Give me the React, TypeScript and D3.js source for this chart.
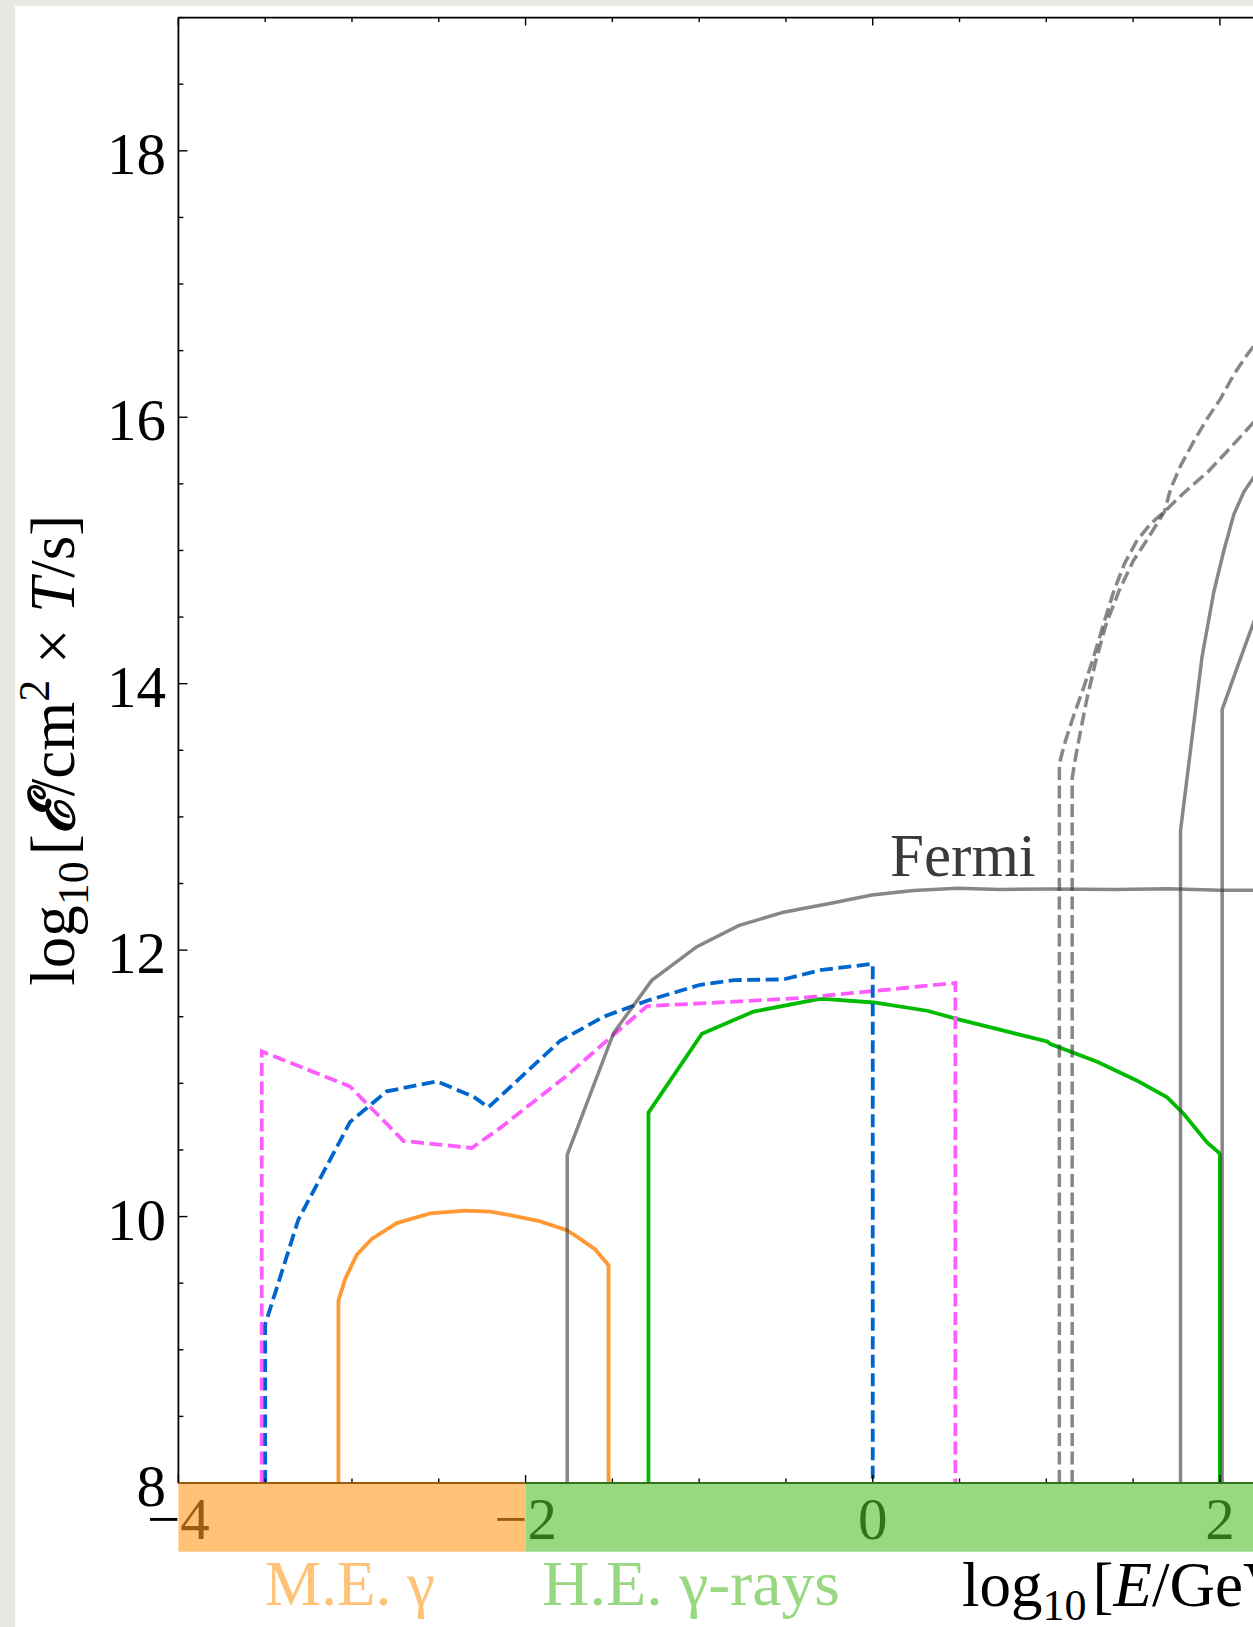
import React from 'react';
import * as d3 from 'd3';

// ---------- data ----------
const X_MAJOR = [-4, -2, 0, 2];
const Y_MAJOR = [8, 10, 12, 14, 16, 18];
const X_DOMAIN = [-4, 2];
const Y_DOMAIN = [8, 19];

const BAND_ME = { label: 'M.E. γ', from: -4, to: -2 };
const BAND_HE = { label: 'H.E. γ-rays', from: -2, to: 9 };

type P = [number, number];

const ORANGE_ME: P[] = [
  [-3.078, 8], [-3.078, 9.37], [-3.04, 9.53], [-2.972, 9.714], [-2.886, 9.832],
  [-2.742, 9.951], [-2.55, 10.024], [-2.348, 10.045], [-2.204, 10.037], [-2.089, 10.011],
  [-1.916, 9.964], [-1.762, 9.898], [-1.685, 9.832], [-1.599, 9.753], [-1.522, 9.635], [-1.522, 8],
];

const BLUE_DASH: P[] = [
  [-3.5, 8], [-3.5, 9.19], [-3.309, 9.977], [-3.011, 10.71], [-2.8, 10.94],
  [-2.511, 11.015], [-2.3, 10.9], [-2.214, 10.82], [-1.8, 11.32], [-1.551, 11.5],
  [-1.3, 11.62], [-0.994, 11.74], [-0.8, 11.775], [-0.514, 11.78], [-0.302, 11.85],
  [0.0, 11.897], [0.0, 8],
];

const MAGENTA_DASH: P[] = [
  [-3.52, 8], [-3.52, 11.24], [-3.011, 10.976], [-2.704, 10.568], [-2.31, 10.515],
  [-2.147, 10.664], [-1.993, 10.822], [-1.77, 11.05], [-1.55, 11.3], [-1.3, 11.58],
  [-0.994, 11.6], [-0.418, 11.64], [-0.033, 11.688], [0.476, 11.754], [0.476, 8],
];

const GREEN_HE: P[] = [
  [-1.292, 8], [-1.292, 10.78], [-0.984, 11.373], [-0.686, 11.539], [-0.321, 11.63],
  [-0.283, 11.634], [0.005, 11.607], [0.313, 11.545], [0.505, 11.477], [0.697, 11.415],
  [1.005, 11.314], [1.024, 11.295], [1.293, 11.162], [1.523, 11.02], [1.696, 10.895],
  [1.792, 10.77], [1.926, 10.557], [1.992, 10.483], [2.0, 10.47], [2.0, 8],
];

const FERMI: P[] = [
  [-1.76, 8], [-1.76, 10.463], [-1.493, 11.378], [-1.273, 11.773], [-1.013, 12.026],
  [-0.773, 12.184], [-0.514, 12.285], [-0.226, 12.356], [-0.005, 12.414], [0.235, 12.448],
  [0.485, 12.465], [0.735, 12.456], [1.01, 12.459], [1.4, 12.455], [1.7, 12.46],
  [2.0, 12.45], [2.3, 12.45],
];

const GRAY_DASH_A: P[] = [
  [1.075, 8], [1.075, 13.4], [1.11, 13.57], [1.16, 13.77], [1.215, 13.97], [1.27, 14.19],
  [1.33, 14.45], [1.39, 14.7], [1.45, 14.9], [1.52, 15.07], [1.6, 15.2], [1.68, 15.29],
  [1.79, 15.43], [1.93, 15.59], [2.06, 15.77], [2.2, 15.97], [2.3, 16.12],
];

const GRAY_DASH_B: P[] = [
  [1.149, 8], [1.149, 13.29], [1.168, 13.443], [1.197, 13.643], [1.235, 13.893],
  [1.285, 14.17], [1.345, 14.45], [1.42, 14.7], [1.5, 14.92], [1.58, 15.08], [1.68, 15.29],
  [1.717, 15.466], [1.775, 15.64], [1.85, 15.82], [1.927, 15.99], [2.004, 16.14],
  [2.08, 16.32], [2.157, 16.47], [2.25, 16.63],
];

const GRAY_SOLID_A: P[] = [
  [1.773, 8], [1.773, 12.894], [1.897, 14.2], [1.965, 14.69], [2.023, 15.0],
  [2.08, 15.27], [2.138, 15.44], [2.2, 15.56], [2.3, 15.72],
];

const GRAY_SOLID_B: P[] = [
  [2.013, 8], [2.013, 13.805], [2.119, 14.192], [2.2, 14.48], [2.3, 14.75],
];

const FERMI_LABEL = { text: 'Fermi', x: 0.1, y: 12.56 };

// ---------- layout ----------
const W = 1253;
const H = 1627;
const PLOT_LEFT = 178.4;
const PLOT_TOP = 17.6;
const PLOT_BOTTOM = 1483;
const X_AT_2 = 1219.9;
const BAND_BOTTOM = 1551.7;
const FONT = "'Liberation Serif', 'DejaVu Serif', 'Times New Roman', serif";

export default function App() {
  const x = d3.scaleLinear().domain(X_DOMAIN).range([PLOT_LEFT, X_AT_2]);
  const y = d3.scaleLinear().domain(Y_DOMAIN).range([PLOT_BOTTOM, PLOT_TOP]);
  const line = d3.line<P>().x((d) => x(d[0])).y((d) => y(d[1]));

  const xMinor = d3.range(-4, 2.26, 0.5);
  const yMinor = d3.range(8, 19.01, 0.5);
  const isMajor = (v: number) => Math.abs(v / 2 - Math.round(v / 2)) < 1e-6;

  const grayStroke = '#3d3d3d';
  const grayOpacity = 0.62;
  const dash = '13,5.5';
  const LW = 3.8;

  return (
    <svg
      width={W}
      height={H}
      viewBox={`0 0 ${W} ${H}`}
      style={{ position: 'absolute', left: 0, top: 0, display: 'block', overflow: 'hidden' }}
    >
      <rect x={0} y={0} width={W} height={H} fill="#e8e8e3" />
      <rect x={15} y={6} width={W} height={H} fill="#ffffff" />

      {/* curves */}
      <g fill="none" strokeLinejoin="miter">
        <path d={line(GREEN_HE) || ''} stroke="#00bb00" strokeWidth={LW} />
        <path d={line(ORANGE_ME) || ''} stroke="#ff9933" strokeWidth={LW} />
        <path d={line(MAGENTA_DASH) || ''} stroke="#ff5cff" strokeWidth={LW} strokeDasharray={dash} />
        <path d={line(BLUE_DASH) || ''} stroke="#0066cc" strokeWidth={LW} strokeDasharray={dash} />
        <path d={line(FERMI) || ''} stroke={grayStroke} strokeOpacity={grayOpacity} strokeWidth={LW - 0.3} />
        <path d={line(GRAY_DASH_A) || ''} stroke={grayStroke} strokeOpacity={grayOpacity} strokeWidth={LW - 0.3} strokeDasharray={dash} />
        <path d={line(GRAY_DASH_B) || ''} stroke={grayStroke} strokeOpacity={grayOpacity} strokeWidth={LW - 0.3} strokeDasharray={dash} />
        <path d={line(GRAY_SOLID_A) || ''} stroke={grayStroke} strokeOpacity={grayOpacity} strokeWidth={LW - 0.3} />
        <path d={line(GRAY_SOLID_B) || ''} stroke={grayStroke} strokeOpacity={grayOpacity} strokeWidth={LW - 0.3} />
      </g>

      {/* Fermi label */}
      <text x={x(FERMI_LABEL.x)} y={y(FERMI_LABEL.y)} fontFamily={FONT} fontSize={61} fill="#3a3a3a">
        {FERMI_LABEL.text}
      </text>

      {/* frame */}
      <g stroke="#000" strokeWidth={1.8} fill="none">
        <line x1={PLOT_LEFT} y1={PLOT_TOP} x2={PLOT_LEFT} y2={PLOT_BOTTOM} />
        <line x1={PLOT_LEFT} y1={PLOT_TOP} x2={W + 10} y2={PLOT_TOP} />
        <line x1={PLOT_LEFT} y1={PLOT_BOTTOM} x2={W + 10} y2={PLOT_BOTTOM} />
      </g>

      {/* ticks */}
      <g stroke="#000" strokeWidth={1.4}>
        {xMinor.map((v) => {
          const len = isMajor(v) ? 8 : 4.5;
          return (
            <g key={`xt${v}`}>
              <line x1={x(v)} x2={x(v)} y1={PLOT_TOP} y2={PLOT_TOP + len} />
              <line x1={x(v)} x2={x(v)} y1={PLOT_BOTTOM} y2={PLOT_BOTTOM - len} />
            </g>
          );
        })}
        {yMinor.map((v) => {
          const len = isMajor(v) ? 9 : 5;
          return <line key={`yt${v}`} x1={PLOT_LEFT} x2={PLOT_LEFT + len} y1={y(v)} y2={y(v)} />;
        })}
      </g>

      {/* tick labels */}
      <g fontFamily={FONT} fontSize={59} fill="#000">
        {Y_MAJOR.map((v) => (
          <text key={`yl${v}`} x={166} y={y(v) + 2.5} textAnchor="end" dy="0.35em">
            {String(v)}
          </text>
        ))}
        {X_MAJOR.map((v) => (
          <text key={`xl${v}`} x={x(v)} y={1539} textAnchor="middle">
            {v < 0 ? `−${Math.abs(v)}` : String(v)}
          </text>
        ))}
      </g>

      {/* energy bands, drawn translucent over the axis and labels */}
      <rect
        x={x(BAND_ME.from)}
        y={PLOT_BOTTOM - 1}
        width={x(BAND_ME.to) - x(BAND_ME.from)}
        height={BAND_BOTTOM - PLOT_BOTTOM + 1}
        fill="#ff9a1a"
        fillOpacity={0.6}
      />
      <rect
        x={x(BAND_HE.from)}
        y={PLOT_BOTTOM - 1}
        width={x(BAND_HE.to) - x(BAND_HE.from)}
        height={BAND_BOTTOM - PLOT_BOTTOM + 1}
        fill="#53be2b"
        fillOpacity={0.6}
      />

      {/* band labels */}
      <g fontFamily={FONT} fontSize={63}>
        <text x={265} y={1605} fill="#ffc276" textLength={170} lengthAdjust="spacingAndGlyphs">
          {BAND_ME.label}
        </text>
        <text x={542} y={1605} fill="#98d880" textLength={298} lengthAdjust="spacingAndGlyphs">
          {BAND_HE.label}
        </text>
      </g>

      {/* x axis label */}
      <text x={962} y={1606} fontFamily={FONT} fontSize={63} fill="#000">
        log
        <tspan fontSize={44} dy={14}>10</tspan>
        <tspan dy={-14} dx={6}>[</tspan>
        <tspan fontStyle="italic">E</tspan>
        <tspan>/GeV]</tspan>
      </text>

      {/* y axis label */}
      <text
        transform={`translate(74, ${(PLOT_TOP + PLOT_BOTTOM) / 2}) rotate(-90)`}
        textAnchor="middle"
        fontFamily={FONT}
        fontSize={63}
        fill="#000"
      >
        log
        <tspan fontSize={44} dy={14}>10</tspan>
        <tspan dy={-14} dx={6}>[</tspan>
        <tspan fontStyle="italic" fontWeight="bold">ℰ</tspan>
        <tspan>/cm</tspan>
        <tspan fontSize={44} dy={-25}>2</tspan>
        <tspan dy={25}> × </tspan>
        <tspan fontStyle="italic">T</tspan>
        <tspan>/s]</tspan>
      </text>
    </svg>
  );
}
